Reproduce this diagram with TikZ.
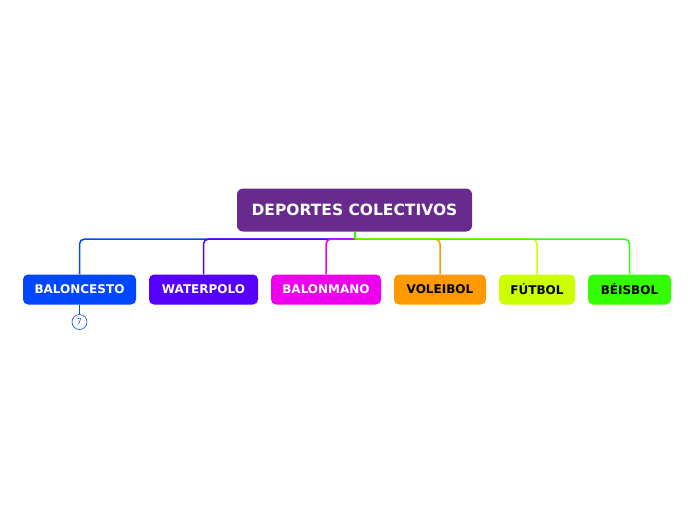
\documentclass[tikz,border=0pt]{standalone}
\usepackage{fontspec}
\setmainfont{DejaVu Sans}
\usepackage{tikz}
\usetikzlibrary{positioning,calc}

\definecolor{rootpurple}{HTML}{682A8E}
\definecolor{cblue}{HTML}{0047FF}
\definecolor{cviolet}{HTML}{5500FF}
\definecolor{cmagenta}{HTML}{EE00EE}
\definecolor{corange}{HTML}{FF9900}
\definecolor{clime}{HTML}{CCFF00}
\definecolor{cgreen}{HTML}{33FF00}

\begin{document}
\begin{tikzpicture}[x=1pt,y=-1pt,
  topic/.style={rectangle, rounded corners=6pt, fill=rootpurple, text=white, font=\fontsize{15.5}{15}\bfseries, minimum width=235pt, minimum height=43pt, inner sep=0pt},
  sport/.style={rectangle, rounded corners=5pt, font=\fontsize{12}{12}\bfseries, minimum height=30pt, inner sep=0pt},
  link/.style={line width=1.5pt, rounded corners=5pt},
  count/.style={circle, draw=cblue, line width=0.6pt, fill=white, minimum size=15pt, inner sep=0pt, text=cblue!70!gray, font=\fontsize{8}{8}\selectfont}]
\useasboundingbox (0,0) rectangle (696,520);
\node (root) at (354.5,210) [topic] {DEPORTES COLECTIVOS};
\node (a) at (79.5,289.5) [sport, fill=cblue, text=white, minimum width=113pt] {BALONCESTO};
\node (b) at (203.5,289.5) [sport, fill=cviolet, text=white, minimum width=109pt] {WATERPOLO};
\node (c) at (326,289.5) [sport, fill=cmagenta, text=white, minimum width=110pt] {BALONMANO};
\node (d) at (440,289.5) [sport, fill=corange, text=black, minimum width=92pt] {VOLEIBOL};
\node (e) at (537,289.5) [sport, fill=clime, text=black, minimum width=76pt] {FÚTBOL};
\node (f) at (629.5,289.5) [sport, fill=cgreen, text=black, minimum width=83pt] {BÉISBOL};
\node (n) at (79.5,322) [count] {7};
\coordinate (hub) at (355,239);
\draw [link, cblue] (hub) -| (a.north);
\draw [link, cviolet] (hub) -| (b.north);
\draw [link, cmagenta] (hub) -| (c.north);
\draw [link, corange] (hub) -| (d.north);
\draw [link, clime] (hub) -| (e.north);
\draw [link, cgreen] (hub) -| (f.north);
\draw [link, cgreen] (root.south -| hub) -- (hub);
\draw [line width=1pt, cblue] (a.south) -- (n.north);
\end{tikzpicture}
\end{document}
